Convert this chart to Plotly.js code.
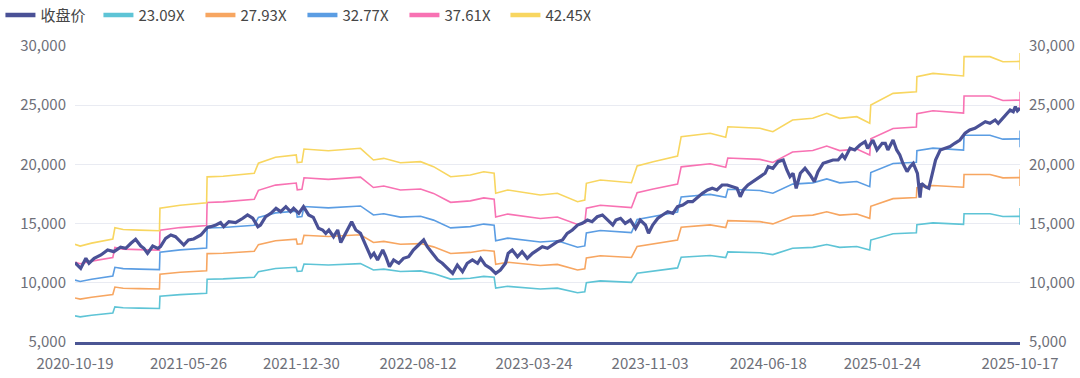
<!DOCTYPE html>
<html>
<head>
<meta charset="utf-8">
<script src="https://cdn.plot.ly/plotly-3.0.1.min.js"></script>
<style>html,body{margin:0;padding:0;background:#fff;}#chart{width:1080px;height:378px;}</style>
</head>
<body>
<div id="chart"></div>
<script>
// ---- Data ----
const closeName = '收盘价';
const closeDates = ['2020-10-19','2020-10-30','2020-11-09','2020-11-15','2020-11-25','2020-12-08','2020-12-21','2021-01-02','2021-01-15','2021-01-25','2021-02-04','2021-02-13','2021-02-23','2021-03-01','2021-03-08','2021-03-18','2021-03-28','2021-04-02','2021-04-12','2021-04-22','2021-05-01','2021-05-07','2021-05-17','2021-05-26','2021-06-05','2021-06-19','2021-07-02','2021-07-08','2021-07-18','2021-07-27','2021-08-02','2021-08-12','2021-08-25','2021-09-08','2021-09-17','2021-09-27','2021-10-07','2021-10-12','2021-10-22','2021-11-01','2021-11-11','2021-11-20','2021-11-30','2021-12-09','2021-12-15','2021-12-25','2022-01-03','2022-01-13','2022-01-22','2022-02-01','2022-02-09','2022-02-15','2022-02-21','2022-03-02','2022-03-10','2022-03-16','2022-03-25','2022-03-29','2022-04-06','2022-04-14','2022-04-23','2022-05-03','2022-05-13','2022-05-19','2022-05-26','2022-06-05','2022-06-11','2022-06-18','2022-06-26','2022-07-06','2022-07-15','2022-07-25','2022-08-03','2022-08-13','2022-08-23','2022-08-30','2022-09-09','2022-09-19','2022-09-28','2022-10-08','2022-10-18','2022-10-27','2022-11-06','2022-11-15','2022-11-25','2022-12-05','2022-12-11','2022-12-20','2022-12-30','2023-01-09','2023-01-18','2023-01-28','2023-02-02','2023-02-10','2023-02-20','2023-03-01','2023-03-11','2023-03-21','2023-03-30','2023-04-09','2023-04-19','2023-04-28','2023-05-08','2023-05-18','2023-05-27','2023-06-06','2023-06-16','2023-06-25','2023-07-05','2023-07-14','2023-07-24','2023-08-03','2023-08-13','2023-08-23','2023-08-29','2023-09-07','2023-09-16','2023-09-26','2023-10-06','2023-10-15','2023-10-25','2023-10-31','2023-11-08','2023-11-18','2023-11-27','2023-12-07','2023-12-17','2023-12-26','2024-01-05','2024-01-15','2024-01-24','2024-02-03','2024-02-12','2024-02-22','2024-03-02','2024-03-11','2024-03-21','2024-03-31','2024-04-09','2024-04-19','2024-04-25','2024-05-01','2024-05-10','2024-05-24','2024-06-02','2024-06-12','2024-06-18','2024-06-27','2024-07-07','2024-07-17','2024-07-24','2024-07-30','2024-08-05','2024-08-11','2024-08-19','2024-08-28','2024-09-07','2024-09-15','2024-09-22','2024-10-02','2024-10-11','2024-10-21','2024-10-31','2024-11-08','2024-11-13','2024-11-23','2024-12-02','2024-12-12','2024-12-22','2024-12-27','2025-01-06','2025-01-14','2025-01-24','2025-01-30','2025-02-04','2025-02-14','2025-02-21','2025-02-27','2025-03-05','2025-03-13','2025-03-19','2025-03-25','2025-04-02','2025-04-07','2025-04-10','2025-04-18','2025-04-24','2025-05-01','2025-05-07','2025-05-16','2025-05-26','2025-06-04','2025-06-13','2025-06-23','2025-07-03','2025-07-12','2025-07-22','2025-08-01','2025-08-11','2025-08-20','2025-08-30','2025-09-05','2025-09-13','2025-09-19','2025-09-28','2025-10-04','2025-10-08','2025-10-12','2025-10-17'];
const closeValues = [11700,11220,12070,11650,12070,12350,12770,12630,13000,12910,13340,13670,13110,12910,12490,13110,12910,13050,13760,14040,13900,13620,13190,13620,13700,14040,14690,14740,14880,15080,14740,15160,15080,15450,15730,15450,14740,14880,15580,15870,16290,16010,16430,16010,16290,15870,16430,15730,15530,14600,14460,14180,14460,13890,14460,13400,14180,14600,15160,14460,14180,13190,12200,12490,11930,12770,12200,11360,11930,11650,12070,12200,12770,13190,13620,13050,12490,11930,11650,11220,10800,11500,10940,11650,11930,11650,12070,11500,11220,10800,11080,11650,12490,12770,12200,12630,12070,12490,12770,13050,12910,13190,13470,13620,14180,14460,14880,15020,15300,15160,15580,15730,15300,14880,15300,15450,15020,15300,14600,15300,14880,14180,14880,15450,15730,16010,15870,16430,16570,16850,16850,17270,17560,17840,17980,17840,18260,18260,18120,17980,17270,17840,18260,18680,18960,19250,19810,19670,20230,20370,19530,18960,19250,17980,19250,19670,19110,18540,19390,20090,20230,20370,20370,20800,20510,21360,21220,21640,21920,21360,22060,21220,21780,21780,21220,22060,21220,20800,20090,19390,19810,20090,19250,17200,18400,18100,17980,19250,20370,21220,21360,21500,21780,22060,22630,22910,23050,23330,23610,23470,23750,23470,23890,24170,24590,24450,24870,24530,24740];

// Earnings per index point behind the PE bands
const epsDates = ['2020-10-19','2020-10-29','2020-11-20','2020-12-15','2020-12-31','2021-01-04','2021-01-20','2021-02-20','2021-03-31','2021-04-01','2021-05-10','2021-06-30','2021-07-01','2021-08-01','2021-09-30','2021-10-08','2021-11-10','2021-12-20','2021-12-22','2021-12-31','2022-01-04','2022-02-20','2022-04-23','2022-05-18','2022-06-07','2022-07-09','2022-08-17','2022-09-11','2022-10-14','2022-11-21','2022-12-17','2023-01-06','2023-01-09','2023-02-01','2023-04-05','2023-05-08','2023-06-16','2023-06-30','2023-07-03','2023-07-30','2023-09-28','2023-10-09','2023-11-09','2023-12-26','2024-01-02','2024-02-27','2024-03-28','2024-04-01','2024-06-02','2024-06-27','2024-08-04','2024-09-12','2024-10-09','2024-11-03','2024-12-06','2024-12-31','2025-01-02','2025-02-14','2025-03-31','2025-04-01','2025-05-02','2025-06-30','2025-07-01','2025-08-20','2025-09-14','2025-10-17'];
const epsValues = [312.1,308.6,314.5,319.2,322.7,345.1,341.6,340.4,339.2,384.0,389.9,394.6,446.4,447.6,453.5,473.5,485.3,490.0,474.7,475.9,501.8,498.2,503.2,479.9,483.2,474.4,476.6,466.7,446.6,449.9,456.5,453.5,413.7,420.3,410.4,413.7,396.9,400.2,433.5,440.0,434.6,468.1,476.6,487.6,526.3,533.1,525.3,546.1,543.0,536.2,559.5,562.8,572.9,562.8,566.1,552.9,589.4,612.5,615.8,645.7,652.3,647.1,685.5,685.5,675.4,676.1];

const peMultiples = [23.09, 27.93, 32.77, 37.61, 42.45];
const bandNames = ['23.09X', '27.93X', '32.77X', '37.61X', '42.45X'];

const xTickDates = ['2020-10-19','2021-05-26','2021-12-30','2022-08-12','2023-03-24','2023-11-03','2024-06-18','2025-01-24','2025-10-17'];
const yTicks = [5000, 10000, 15000, 20000, 25000, 30000];

// ---- Styles ----
const closeColor = '#4a5196';
const bandColors = ['#5ec4d6', '#f7a661', '#5b9de3', '#f872b3', '#f8d660'];
const legendWidths = [53, 57, 57, 57, 56, 40];

const traces = [];
// band lines
peMultiples.forEach((m, i) => {
  const n = epsDates.length;
  traces.push({
    type: 'scatter', mode: 'lines+markers', name: bandNames[i],
    x: epsDates, y: epsValues.map(v => v * m),
    line: {color: bandColors[i], width: 1.6},
    marker: {symbol: 'line-ns', size: epsDates.map((d, k) => k === n - 1 ? 12 : 0),
             line: {color: bandColors[i], width: 2}, color: bandColors[i]},
    showlegend: false, hoverinfo: 'skip'
  });
});
// close price (drawn on top)
traces.push({
  type: 'scatter', mode: 'lines', name: closeName,
  x: closeDates, y: closeValues,
  line: {color: closeColor, width: 3.2},
  showlegend: false, hoverinfo: 'skip'
});
// legend entries (thick symbols like the reference)
const legNames = [closeName].concat(bandNames);
const legColors = [closeColor].concat(bandColors);
legNames.forEach((nm, i) => {
  traces.push({
    type: 'scatter', mode: 'lines', name: nm, x: [null], y: [null],
    line: {color: legColors[i], width: 4.5},
    legendwidth: legendWidths[i], showlegend: true, hoverinfo: 'skip'
  });
});
// right axis carrier
traces.push({type:'scatter', mode:'lines', x:[null], y:[null], yaxis:'y2', showlegend:false, hoverinfo:'skip'});

const tickFont = {family: '"Noto Sans CJK SC", "Noto Sans", sans-serif', size: 15, color: '#6e7079'};
const yAxisBase = {
  range: [5000, 30000], tickvals: yTicks, tickformat: ',', ticks: '',
  tickfont: tickFont, zeroline: false, showline: false, fixedrange: true,
  ticklabelstandoff: 8, automargin: false
};

const layout = {
  width: 1080, height: 378,
  margin: {l: 75, r: 60, t: 46, b: 36, pad: 0, autoexpand: false},
  paper_bgcolor: '#ffffff', plot_bgcolor: '#ffffff',
  font: {family: '"Noto Sans CJK SC", "Noto Sans", sans-serif', size: 15, color: '#464646'},
  showlegend: true,
  legend: {orientation: 'h', x: -0.0789, xanchor: 'left', y: 1.16, yanchor: 'top',
           font: {size: 15, color: '#464646'}, itemwidth: 30, bgcolor: 'rgba(0,0,0,0)',
           traceorder: 'normal'},
  xaxis: {type: 'date', range: ['2020-10-19', '2025-10-17'], tickvals: xTickDates, ticktext: xTickDates,
          showgrid: false, zeroline: false, showline: true, linecolor: '#4b5694', linewidth: 3,
          ticks: '', tickfont: tickFont, fixedrange: true, ticklabelstandoff: 6, automargin: false},
  yaxis: Object.assign({}, yAxisBase, {side: 'left', showgrid: true, gridcolor: '#e9ebf2', gridwidth: 1}),
  yaxis2: Object.assign({}, yAxisBase, {side: 'right', overlaying: 'y', showgrid: false}),
  hovermode: false
};

Plotly.newPlot('chart', traces, layout, {displayModeBar: false, staticPlot: true});
</script>
</body>
</html>
